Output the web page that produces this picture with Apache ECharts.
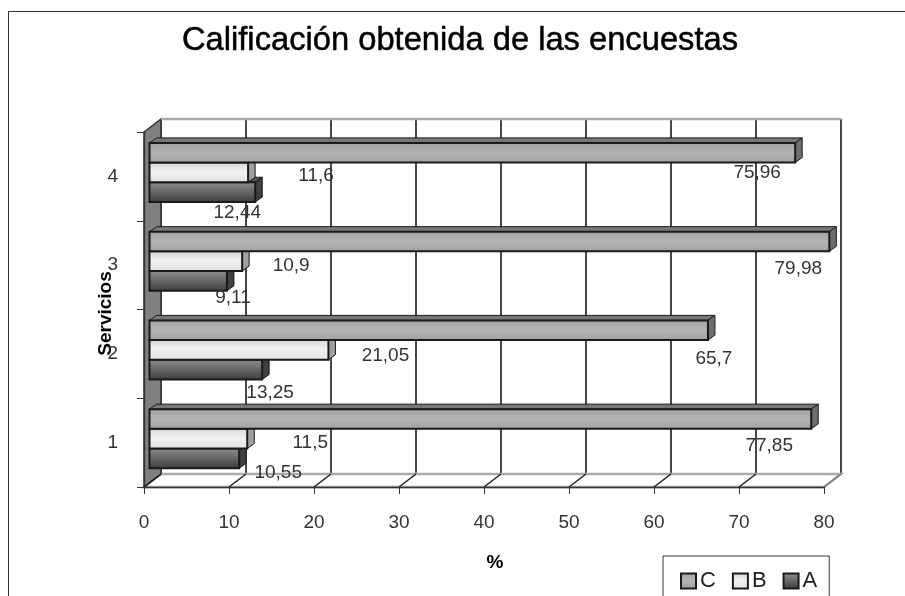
<!DOCTYPE html>
<html lang="en">
<head>
    <meta charset="utf-8"/>
    <title>Calificación obtenida de las encuestas</title>
    <script src="https://cdn.jsdelivr.net/npm/echarts@6/dist/echarts.min.js"></script>
    <style>
        html, body { margin: 0; padding: 0; background: #fff; overflow: hidden; }
        #frame { position: absolute; left: 8px; top: 11px; width: 1000px; height: 700px; border: 1px solid #333; }
        #chart { position: absolute; left: 0; top: 0; width: 905px; height: 596px; }
    </style>
</head>
<body>
<div id="frame"></div>
<div id="chart"></div>
<script type="text/javascript">

  var categories = ['1', '2', '3', '4'];
  var seriesC = [77.85, 65.7, 79.98, 75.96];
  var seriesB = [11.5, 21.05, 10.9, 11.6];
  var seriesA = [10.55, 13.25, 9.11, 12.44];
  var xTicks = [0, 10, 20, 30, 40, 50, 60, 70, 80];

  // hand placed labels of the original, px from the bar tip / bar middle
  var offsetsC = [[-42, 27], [6, 29], [-31, 27], [-38, 20]];
  var offsetsB = [[63, 4], [57, 6], [49, 5], [68, 3]];
  var offsetsA = [[39, 14], [8, 23], [6, 17], [-18, 21]];

  var DEPTH_X = 17, DEPTH_Y = 13;
  var BAR_DX = 7, BAR_DY = 5;

  var looks = [
    {name: 'C', data: seriesC, offsets: offsetsC, stops: ['#a0a0a0', '#b4b4b4', '#a0a0a0'], side: '#6e6e6e', top: '#777777', slot: 0},
    {name: 'B', data: seriesB, offsets: offsetsB, stops: ['#d6d6d6', '#f2f2f2', '#e0e0e0'], side: '#a0a0a0', top: '#b0b0b0', slot: 1},
    {name: 'A', data: seriesA, offsets: offsetsA, stops: ['#909090', '#666666', '#3a3a3a'], side: '#404040', top: '#555555', slot: 2}
  ];

  function shade(stops) {
    return new echarts.graphic.LinearGradient(0, 0, 0, 1, [
      {offset: 0, color: stops[0]},
      {offset: 0.5, color: stops[1]},
      {offset: 1, color: stops[2]}
    ]);
  }

  function poly(points, fill, width, stroke) {
    return {
      type: 'polygon',
      shape: {points: points},
      style: {fill: fill, stroke: stroke || '#1a1a1a', lineWidth: width === undefined ? 1 : width}
    };
  }

  function renderBar(look) {
    return function (params, api) {
      var value = api.value(0);
      var start = api.coord([0, api.value(1)]);
      var tip = api.coord([value, api.value(1)]);
      var band = api.size([0, 1])[1];
      var h = band * 0.222;
      var y0 = start[1] - 33.5 + look.slot * h;
      var x0 = start[0] + 5.5;
      var x1 = tip[0] + 5.5;
      var y1 = y0 + h;
      var off = look.offsets[params.dataIndex];
      return {
        type: 'group',
        children: [
          poly([[x0, y0], [x0 + BAR_DX, y0 - BAR_DY], [x1 + BAR_DX, y0 - BAR_DY], [x1, y0]], look.top),
          poly([[x1, y0], [x1 + BAR_DX, y0 - BAR_DY], [x1 + BAR_DX, y1 - BAR_DY], [x1, y1]], look.side),
          poly([[x0, y0], [x1, y0], [x1, y1], [x0, y1]], shade(look.stops), 2),
          {
            type: 'text',
            z2: 10,
            style: {
              x: x1 + off[0],
              y: (y0 + y1) / 2 + off[1],
              text: String(value).replace('.', ','),
              align: 'center',
              verticalAlign: 'middle',
              fill: '#333',
              font: '19px "Liberation Sans"'
            }
          }
        ]
      };
    };
  }

  // left wall, floor and the short diagonals from the front ticks to the back wall
  function renderWalls(params, api) {
    var first = api.coord([0, 0]);
    var last = api.coord([0, 3]);
    var half = api.size([0, 1])[1] / 2;
    var lo = [first[0], first[1] + half];
    var hi = [last[0], last[1] - half];
    var endX = api.coord([80, 0])[0];
    var kids = [
      poly([[lo[0], lo[1]], [lo[0] + DEPTH_X, lo[1] - DEPTH_Y], [endX + DEPTH_X, lo[1] - DEPTH_Y], [endX, lo[1]]], '#ffffff', 2.4, '#aaaaaa'),
      poly([[lo[0], lo[1]], [lo[0] + DEPTH_X, lo[1] - DEPTH_Y], [hi[0] + DEPTH_X, hi[1] - DEPTH_Y], [hi[0], hi[1]]], '#808080', 1.5, '#333333'),
      {
        type: 'line',
        shape: {x1: hi[0] + DEPTH_X, y1: hi[1] - DEPTH_Y, x2: endX + DEPTH_X, y2: hi[1] - DEPTH_Y},
        style: {stroke: '#aaaaaa', lineWidth: 2.4}
      }
    ];
    xTicks.forEach(function (t) {
      var x = api.coord([t, 0])[0];
      kids.push({
        type: 'line',
        shape: {x1: x, y1: lo[1], x2: x + DEPTH_X, y2: lo[1] - DEPTH_Y},
        style: {stroke: t === 80 ? '#777777' : '#1a1a1a', lineWidth: 1.4}
      });
    });
    return {type: 'group', children: kids};
  }

  var chart = echarts.init(document.getElementById('chart'), null, {renderer: 'canvas'});

  var barSeries = looks.map(function (look) {
    return {
      type: 'custom',
      name: look.name,
      xAxisIndex: 0,
      yAxisIndex: 0,
      z: 5 + (2 - look.slot),
      renderItem: renderBar(look),
      encode: {x: 0, y: 1},
      data: look.data.map(function (v, i) { return [v, i]; }),
      itemStyle: {color: shade(look.stops), borderColor: '#1a1a1a', borderWidth: 2},
      clip: false
    };
  });

  chart.setOption({
    animation: false,
    backgroundColor: 'transparent',
    textStyle: {fontFamily: '"Liberation Sans"'},
    title: {
      text: 'Calificación obtenida de las encuestas',
      left: 455,
      top: 19,
      textAlign: 'center',
      textStyle: {
        fontFamily: '"Liberation Sans"', fontSize: 32.7, fontWeight: 'normal', color: '#000',
        textBorderColor: '#000', textBorderWidth: 0.5
      }
    },
    legend: {
      left: 663,
      top: 556,
      orient: 'horizontal',
      padding: [14, 12, 40, 17],
      itemGap: 16,
      itemWidth: 15,
      itemHeight: 15,
      borderColor: '#333',
      borderWidth: 1,
      backgroundColor: '#fff',
      icon: 'rect',
      data: ['C', 'B', 'A'],
      textStyle: {fontSize: 22, color: '#222', padding: [0, 0, 0, -1]}
    },
    grid: [
      {left: 144, top: 132, width: 680, height: 355},
      {left: 161, top: 119, width: 680, height: 354, show: true, borderWidth: 0, backgroundColor: '#fff'}
    ],
    xAxis: [
      {
        type: 'value', gridIndex: 0, min: 0, max: 80, interval: 10,
        name: '%', nameLocation: 'middle', nameGap: 66,
        nameTextStyle: {fontSize: 19, fontWeight: 'bold', color: '#000', padding: [0, 0, 0, 22]},
        axisLine: {show: true, lineStyle: {color: '#333', width: 1.4}},
        axisTick: {show: true, length: 7, lineStyle: {color: '#333'}},
        axisLabel: {margin: 26, fontSize: 19, color: '#333'},
        splitLine: {show: false},
        z: 4
      },
      {
        type: 'value', gridIndex: 1, min: 0, max: 80, interval: 10,
        axisLine: {show: false}, axisTick: {show: false}, axisLabel: {show: false},
        splitLine: {show: true, lineStyle: {color: '#1a1a1a', width: 1.6}}
      }
    ],
    yAxis: [
      {
        type: 'category', gridIndex: 0, data: categories,
        name: 'Servicios', nameLocation: 'middle', nameGap: 29, nameRotate: 90,
        nameMoveOverlap: false,
        nameTextStyle: {fontSize: 19, fontWeight: 'bold', color: '#000', padding: [0, 8, 0, 0]},
        axisLine: {show: true, lineStyle: {color: '#333', width: 1.4}},
        axisTick: {show: true, length: 7, lineStyle: {color: '#333'}},
        axisLabel: {margin: 26, fontSize: 19, color: '#333'},
        z: 4
      },
      {
        type: 'value', gridIndex: 1, min: 0, max: 1,
        axisLine: {show: false}, axisTick: {show: false}, axisLabel: {show: false}, splitLine: {show: false}
      }
    ],
    series: [
      {
        type: 'custom',
        xAxisIndex: 0,
        yAxisIndex: 0,
        z: 1,
        silent: true,
        renderItem: renderWalls,
        data: [[0, 0]],
        clip: false
      }
    ].concat(barSeries)
  });
</script>
</body>
</html>
